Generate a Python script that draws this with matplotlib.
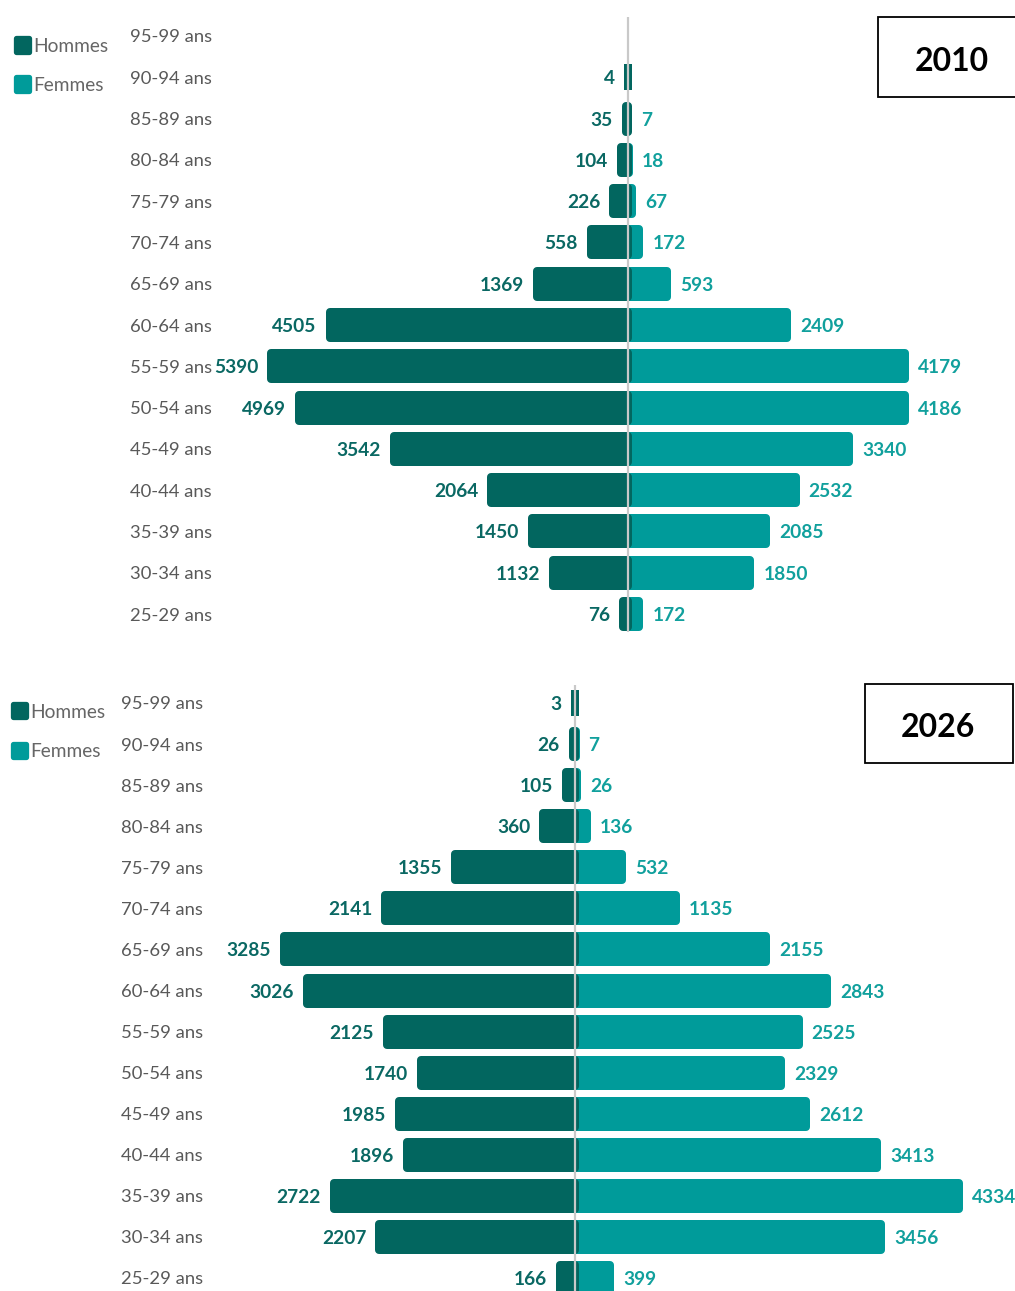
import matplotlib
matplotlib.use("Agg")
import matplotlib.pyplot as plt
import numpy as np
from matplotlib.patches import Rectangle
from matplotlib.transforms import blended_transform_factory

plt.rcParams['font.family'] = ['Lato', 'DejaVu Sans']

# Age groups from youngest (bottom) to oldest (top)
ages = ["25-29 ans", "30-34 ans", "35-39 ans", "40-44 ans", "45-49 ans",
        "50-54 ans", "55-59 ans", "60-64 ans", "65-69 ans", "70-74 ans",
        "75-79 ans", "80-84 ans", "85-89 ans", "90-94 ans", "95-99 ans"]

hommes_2010 = [76, 1132, 1450, 2064, 3542, 4969, 5390, 4505, 1369, 558,
               226, 104, 35, 4, None]
femmes_2010 = [172, 1850, 2085, 2532, 3340, 4186, 4179, 2409, 593, 172,
               67, 18, 7, None, None]

hommes_2026 = [166, 2207, 2722, 1896, 1985, 1740, 2125, 3026, 3285, 2141,
               1355, 360, 105, 26, 3]
femmes_2026 = [399, 3456, 4334, 3413, 2612, 2329, 2525, 2843, 2155, 1135,
               532, 136, 26, 7, None]

C_H = "#02665F"
C_F = "#009B9A"
C_H_TXT = "#0A6863"
C_F_TXT = "#11A09D"
C_AGE = "#595959"
C_AXIS = "#C9C9C9"

W, H = 1015, 1291
fig = plt.figure(figsize=(W / 100, H / 100), dpi=100)
EDGE_PX = 8.0                 # stroke width in pixels, gives the rounded ends
LW = EDGE_PX * 72 / 100       # same in points
FS_NUM = 13.8
FS_AGE = 13.3


def fx(px):
    return px / W


def fy(py):
    return 1 - py / H


def pyramid(top_px, bot_px, row0_px, row14_px, center_px, scale,
            hommes, femmes, year, age_x, legend_xy, box, line_top):
    ax = fig.add_axes([0, fy(bot_px), 1, (bot_px - top_px) / H])
    step = (row0_px - row14_px) / 14.0
    y_lo = -(bot_px - row0_px) / step
    y_hi = 14 + (row14_px - top_px) / step
    ax.set_ylim(y_lo, y_hi)
    ax.set_xlim(-center_px / scale, (W - center_px) / scale)
    ax.axis("off")

    y = np.arange(len(ages))
    hv = np.array([np.nan if v is None else v for v in hommes], float)
    fv = np.array([np.nan if v is None else v for v in femmes], float)
    bh = (34.0 - EDGE_PX) / step

    mh = ~np.isnan(hv)
    mf = ~np.isnan(fv)
    ax.barh(y[mf], fv[mf], height=bh, color=C_F, edgecolor=C_F,
            linewidth=LW, joinstyle="round", zorder=2)
    ax.barh(y[mh], -hv[mh], height=bh, color=C_H, edgecolor=C_H,
            linewidth=LW, joinstyle="round", zorder=2.5)

    # central vertical axis line
    y_line_top = y_hi - (line_top - top_px) / step
    y_line_bot = y_lo if bot_px >= H else y_hi - (632 - top_px) / step
    ax.plot([0, 0], [y_line_top, y_line_bot], color=C_AXIS, lw=1.6,
            zorder=3, solid_capstyle="butt")

    off = (EDGE_PX / 2 + 9) * 72 / 100
    for i in range(len(ages)):
        if mh[i]:
            ax.annotate(f"{int(hv[i])}", (-hv[i], y[i]), xytext=(-off, 0),
                        textcoords="offset points", ha="right",
                        va="center_baseline", fontsize=FS_NUM,
                        fontweight="bold", color=C_H_TXT)
        if mf[i]:
            ax.annotate(f"{int(fv[i])}", (fv[i], y[i]), xytext=(off, 0),
                        textcoords="offset points", ha="left",
                        va="center_baseline", fontsize=FS_NUM,
                        fontweight="bold", color=C_F_TXT)

    tr = blended_transform_factory(fig.transFigure, ax.transData)
    for i, a in enumerate(ages):
        ax.text(fx(age_x), y[i], a, transform=tr, ha="left",
                va="center_baseline", fontsize=FS_AGE, color=C_AGE)

    # legend
    lx, ly = legend_xy
    for k, (lab, col) in enumerate([("Hommes", C_H), ("Femmes", C_F)]):
        cy = ly + k * 39
        fig.patches.append(Rectangle((fx(lx - 6.5), fy(cy + 6.5)),
                                     13 / W, 13 / H, transform=fig.transFigure,
                                     facecolor=col, edgecolor=col, lw=3.8,
                                     joinstyle="round"))
        fig.text(fx(lx + 11), fy(cy), lab, ha="left",
                 va="center_baseline", fontsize=13.8, color="#666666")

    # year box
    x0, y0, x1, y1, tx = box
    fig.patches.append(Rectangle((fx(x0), fy(y1)), (x1 - x0) / W,
                                 (y1 - y0) / H, transform=fig.transFigure,
                                 facecolor="white", edgecolor="black",
                                 lw=1.3, zorder=5))
    fig.text(fx(tx), fy((y0 + y1) / 2 + 2), year, ha="center",
             va="center_baseline", fontsize=23, fontweight="bold",
             color="black", zorder=6)
    return ax


pyramid(0, 650, 614, 36, 628, 0.0662, hommes_2010, femmes_2010, "2010",
        130, (22, 45), (878, 17, 1030, 97, 952), 17)
pyramid(650, H, 1278, 703, 575, 0.0886, hommes_2026, femmes_2026, "2026",
        121, (19, 711), (865, 684, 1013, 763, 938), 685)

fig.savefig("out.png", dpi=100, facecolor="white")
